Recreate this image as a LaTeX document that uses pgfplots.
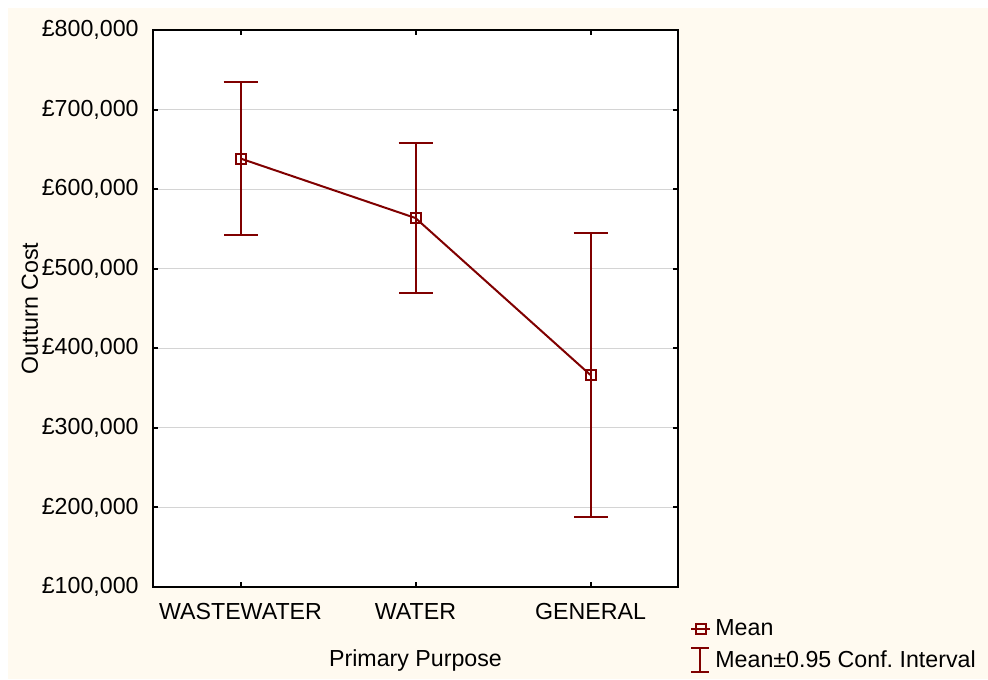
\documentclass[border=0pt]{standalone}
\usepackage{pgfplots}
\pgfplotsset{compat=1.18}
\usepackage{fontspec}
\setmainfont{Liberation Sans}
\definecolor{panel}{RGB}{255,250,240}
\definecolor{meanred}{RGB}{128,0,0}
\definecolor{gridgray}{RGB}{212,212,212}
\begin{document}
\begin{tikzpicture}[font=\fontsize{11.6pt}{13.8pt}\selectfont]
  % page and cream panel
  \path[fill=white] (0,0) rectangle (494pt,339.5pt);
  \path[fill=panel] (4pt,0) rectangle (494pt,335.5pt);
  \begin{axis}[
    at={(76.5pt,46pt)}, anchor=south west,
    scale only axis, width=262.5pt, height=278.5pt,
    xmin=-0.5, xmax=2.5, ymin=100000, ymax=800000,
    scaled y ticks=false,
    axis background/.style={fill=white},
    axis line style={line width=1pt, black},
    tick align=inside, major tick length=2.5pt,
    tick style={line width=1pt, black},
    xtick={0,1,2}, xticklabels={WASTEWATER,WATER,GENERAL},
    ytick={100000,200000,300000,400000,500000,600000,700000,800000},
    yticklabels={{£100,000},{£200,000},{£300,000},{£400,000},{£500,000},{£600,000},{£700,000},{£800,000}},
    xticklabel style={anchor=base, inner sep=0pt, yshift=-16pt},
    yticklabel style={anchor=east, inner sep=0pt, xshift=-7pt},
    ymajorgrids, major grid style={gridgray, line width=0.5pt},
    xlabel={Primary Purpose}, ylabel={Outturn Cost},
    xlabel style={at={(rel axis cs:0.5,0)}, anchor=center, yshift=-36.5pt},
    ylabel style={at={(rel axis cs:0,0.5)}, anchor=center, yshift=61.5pt},
    legend style={draw=none, fill=none, at={(rel axis cs:1,0)}, anchor=north west,
      xshift=6pt, yshift=-14pt, inner sep=0pt, row sep=2pt,
      nodes={inner sep=2pt}},
    legend cell align=left,
  ]
    % group means with 0.95 confidence intervals
    \addplot[meanred, line width=1pt, mark=square, mark size=2.5pt,
      mark options={solid, line width=1pt, fill=none},
      legend image code/.code={
        \draw[meanred, line width=1pt] (0pt,0pt) -- (9.5pt,0pt);
        \draw[meanred, line width=1pt, fill=none] (2.25pt,-2.5pt) rectangle (7.25pt,2.5pt);
      },
      error bars/.cd, y dir=both, y explicit,
      error bar style={meanred, line width=1pt},
      error mark options={meanred, line width=1pt, mark size=8.5pt, rotate=90}]
      coordinates {
        (0,638500) +- (0,95600)
        (1,563700) +- (0,94300)
        (2,366400) +- (0,178500)
      };
    \addlegendentry{Mean}
    \addlegendimage{legend image code/.code={
        \draw[meanred, line width=1pt] (4.5pt,-6pt) -- (4.5pt,6pt);
        \draw[meanred, line width=1pt] (0pt,-6pt) -- (9pt,-6pt);
        \draw[meanred, line width=1pt] (0pt,6pt) -- (9pt,6pt);
      }}
    \addlegendentry{Mean±0.95 Conf.\ Interval}
  \end{axis}
\end{tikzpicture}
\end{document}
